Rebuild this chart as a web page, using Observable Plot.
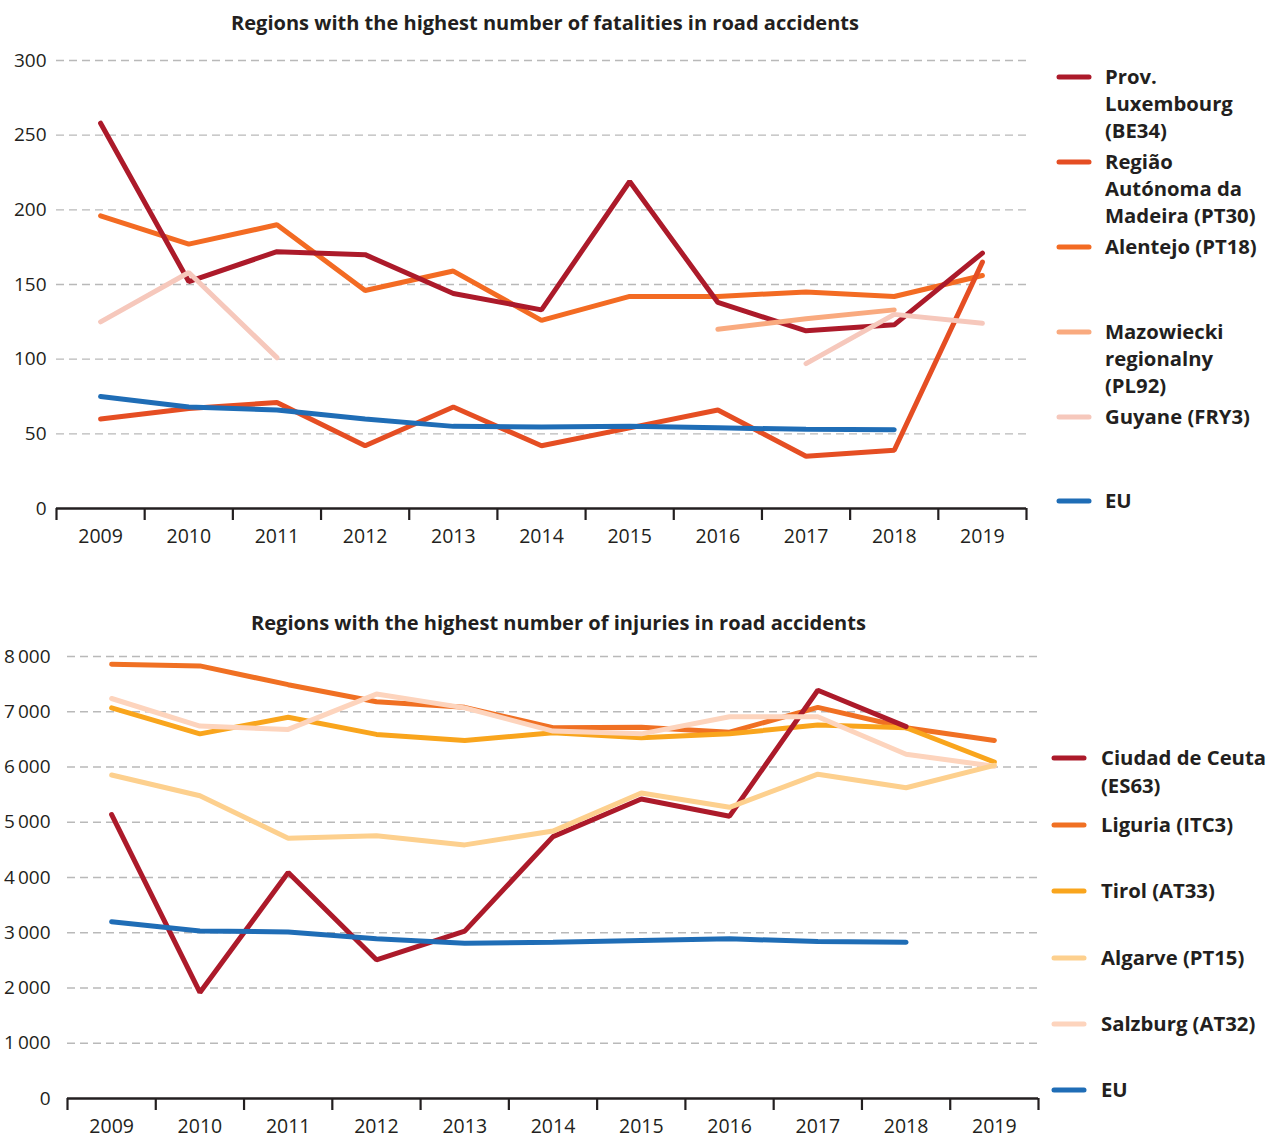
<!DOCTYPE html>
<html>
<head>
<meta charset="utf-8">
<script src="https://cdn.jsdelivr.net/npm/d3@7"></script>
<script src="https://cdn.jsdelivr.net/npm/@observablehq/plot@0.6"></script>
<style>
  html, body { margin: 0; padding: 0; background: #ffffff; }
  #root { position: relative; width: 1279px; height: 1138px; overflow: hidden; background: #fff; }
  #root > .pane { position: absolute; left: 0; }
  #overlay { position: absolute; left: 0; top: 0; pointer-events: none; }
</style>
</head>
<body>
<div id="root">
  <div class="pane" id="top" style="top:0px"></div>
  <div class="pane" id="bottom" style="top:600px"></div>
  <svg id="overlay" width="1279" height="1138"></svg>
</div>
<script>
// ---------- Data ----------
const years = [2009, 2010, 2011, 2012, 2013, 2014, 2015, 2016, 2017, 2018, 2019];

// Fatalities (top chart)
const fatSeries = ["Prov. Luxembourg (BE34)", "Região Autónoma da Madeira (PT30)", "Alentejo (PT18)", "Mazowiecki regionalny (PL92)", "Guyane (FRY3)", "EU"];
const fatLuxembourg = [258, 152, 172, 170, 144, 133, 219, 138, 119, 123, 171];
const fatMadeira    = [60, 67, 71, 42, 68, 42, 54, 66, 35, 39, 165];
const fatAlentejo   = [196, 177, 190, 146, 159, 126, 142, 142, 145, 142, 156];
const fatMazowiecki = [null, null, null, null, null, null, null, 120, 127, 133, null];
const fatGuyane     = [125, 158, 101, null, null, null, null, null, 97, 130, 124];
const fatEU         = [75, 68, 66, 60, 55, 54.5, 55, 54, 53, 52.7, null];
const fatColors = ["#ac1a2a", "#e54e23", "#f36b23", "#f9aa7f", "#f6c8bc", "#1f6db6"];
const fatTicks = [0, 50, 100, 150, 200, 250, 300];

// Injuries (bottom chart)
const injSeries = ["Ciudad de Ceuta (ES63)", "Liguria (ITC3)", "Tirol (AT33)", "Algarve (PT15)", "Salzburg (AT32)", "EU"];
const injCeuta    = [5140, 1920, 4090, 2510, 3030, 4740, 5420, 5110, 7390, 6730, null];
const injLiguria  = [7860, 7830, 7490, 7180, 7080, 6710, 6720, 6630, 7080, 6710, 6480];
const injTirol    = [7070, 6600, 6900, 6590, 6480, 6620, 6530, 6600, 6760, 6710, 6090];
const injAlgarve  = [5855, 5480, 4710, 4755, 4590, 4840, 5530, 5270, 5870, 5625, 6030];
const injSalzburg = [7240, 6740, 6680, 7320, 7070, 6650, 6600, 6910, 6910, 6230, 6015];
const injEU       = [3200, 3030, 3015, 2890, 2810, 2830, 2860, 2890, 2840, 2830, null];
const injColors = ["#ac1a2a", "#f07023", "#f9a51d", "#fdd08e", "#fdd4bd", "#1f6db6"];
const injTicks = [0, 1000, 2000, 3000, 4000, 5000, 6000, 7000, 8000];

// Legend label lines
const fatLegendLines = [["Prov.", "Luxembourg", "(BE34)"], ["Região", "Autónoma da", "Madeira (PT30)"], ["Alentejo (PT18)"], ["Mazowiecki", "regionalny", "(PL92)"], ["Guyane (FRY3)"], ["EU"]];
const injLegendLines = [["Ciudad de Ceuta", "(ES63)"], ["Liguria (ITC3)"], ["Tirol (AT33)"], ["Algarve (PT15)"], ["Salzburg (AT32)"], ["EU"]];

const titles = ["Regions with the highest number of fatalities in road accidents", "Regions with the highest number of injuries in road accidents"];

// ---------- Build tables ----------
function table(names, arrays) {
  const rows = [];
  names.forEach((name, i) => {
    arrays[i].forEach((v, j) => rows.push({series: name, year: years[j], value: v == null ? NaN : v}));
  });
  return rows;
}
const fatData = table(fatSeries, [fatLuxembourg, fatMadeira, fatAlentejo, fatMazowiecki, fatGuyane, fatEU]);
const injData = table(injSeries, [injCeuta, injLiguria, injTirol, injAlgarve, injSalzburg, injEU]);

const FONT = "'Open Sans', 'Noto Sans', sans-serif";
const INK = "#231f20";
const spaceFmt = d => d3.format(",")(d).replace(/,/g, "\u2009");
const boundaries = years.map(y => y - 0.5).concat([years[years.length - 1] + 0.5]);

function chart({data, names, colors, order, ticks, yMax, width, height, mL, mR, mT, mB, yPad, fmt}) {
  const ordered = order.flatMap(n => data.filter(d => d.series === n));
  return Plot.plot({
    width, height,
    marginLeft: mL, marginRight: mR, marginTop: mT, marginBottom: mB,
    style: {fontFamily: FONT, fontSize: "19px", color: INK, background: "transparent", overflow: "visible"},
    x: {domain: [years[0] - 0.5, years[years.length - 1] + 0.5]},
    y: {domain: [0, yMax]},
    color: {domain: names, range: colors},
    marks: [
      Plot.gridY(ticks.filter(t => t > 0), {stroke: "#b9b9b9", strokeOpacity: 1, strokeWidth: 1.3, strokeDasharray: "8,5"}),
      Plot.axisY({ticks, tickSize: 0, tickPadding: yPad, label: null, tickFormat: fmt, fill: INK, fontSize: 19}),
      Plot.axisX({ticks: boundaries, tickSize: 12, tickFormat: () => "", label: null, stroke: INK, strokeWidth: 2.2}),
      Plot.axisX({ticks: years, tickSize: 0, tickPadding: 21, tickFormat: d => String(d), label: null, fill: INK, fontSize: 19.5}),
      Plot.ruleY([0], {stroke: INK, strokeWidth: 2.5}),
      Plot.line(ordered, {x: "year", y: "value", z: "series", stroke: "series", strokeWidth: 5, strokeLinecap: "round", strokeLinejoin: "miter", curve: "linear"})
    ]
  });
}

document.getElementById("top").appendChild(chart({
  data: fatData, names: fatSeries, colors: fatColors,
  order: ["Alentejo (PT18)", "Prov. Luxembourg (BE34)", "Mazowiecki regionalny (PL92)", "Região Autónoma da Madeira (PT30)", "Guyane (FRY3)", "EU"],
  ticks: fatTicks, yMax: 300, width: 1040, height: 548, mL: 56, mR: 14, mT: 60, mB: 40, yPad: 10, fmt: d => String(d)
}));
document.getElementById("bottom").appendChild(chart({
  data: injData, names: injSeries, colors: injColors,
  order: ["Liguria (ITC3)", "Tirol (AT33)", "Ciudad de Ceuta (ES63)", "Salzburg (AT32)", "Algarve (PT15)", "EU"],
  ticks: injTicks, yMax: 8000, width: 1050, height: 538, mL: 67, mR: 12, mT: 56, mB: 40, yPad: 17, fmt: spaceFmt
}));

// ---------- Titles and legends (overlay) ----------
const ov = d3.select("#overlay");
ov.append("text").text(titles[0])
  .attr("x", 545).attr("y", 30).attr("text-anchor", "middle")
  .attr("textLength", 628).attr("lengthAdjust", "spacingAndGlyphs")
  .attr("font-family", FONT).attr("font-weight", 700).attr("font-size", 20).attr("fill", INK);
ov.append("text").text(titles[1])
  .attr("x", 558.5).attr("y", 630).attr("text-anchor", "middle")
  .attr("textLength", 615).attr("lengthAdjust", "spacingAndGlyphs")
  .attr("font-family", FONT).attr("font-weight", 700).attr("font-size", 20).attr("fill", INK);

function legend(lines, colors, swatchYs, sx0, sx1, tx, lineGap) {
  lines.forEach((ls, i) => {
    const y = swatchYs[i];
    ov.append("line").attr("x1", sx0).attr("x2", sx1).attr("y1", y).attr("y2", y)
      .attr("stroke", colors[i]).attr("stroke-width", 5).attr("stroke-linecap", "round");
    ls.forEach((t, k) => {
      ov.append("text").text(t).attr("x", tx).attr("y", y + 7 + k * lineGap)
        .attr("font-family", FONT).attr("font-weight", 700).attr("font-size", 20.3).attr("fill", INK);
    });
  });
}
legend(fatLegendLines, fatColors, [77, 162, 247, 332, 417, 501], 1059, 1089, 1105, 27);
legend(injLegendLines, injColors, [758, 825, 891, 958, 1024, 1090], 1054, 1084, 1101, 28);
</script>
</body>
</html>
